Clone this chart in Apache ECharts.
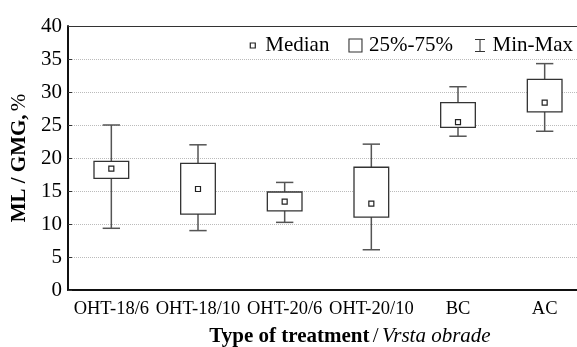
<!DOCTYPE html>
<html>
<head>
<meta charset="utf-8">
<script src="https://cdn.jsdelivr.net/npm/echarts@6/dist/echarts.min.js"></script>
<style>
  html, body { margin: 0; padding: 0; background: #fff; }
  #main { width: 577px; height: 347px; }
</style>
</head>
<body>
<div id="main"></div>
<script>
// values
var categories = ['OHT-18/6', 'OHT-18/10', 'OHT-20/6', 'OHT-20/10', 'BC', 'AC'];
var minVals    = [9.35, 9.0, 10.25, 6.1, 23.3, 24.05];
var q1Vals     = [16.9, 11.5, 12.0, 11.05, 24.65, 27.0];
var medianVals = [18.4, 15.3, 13.4, 13.1, 25.45, 28.4];
var q3Vals     = [19.5, 19.2, 14.85, 18.6, 28.4, 31.9];
var maxVals    = [25.0, 22.0, 16.3, 22.1, 30.8, 34.3];
var yTicks     = [0, 5, 10, 15, 20, 25, 30, 35, 40];

var serif = 'Liberation Serif';

var boxData = categories.map(function (c, i) {
  return [i, minVals[i], q1Vals[i], q3Vals[i], maxVals[i]];
});
var medianData = categories.map(function (c, i) {
  return [i, medianVals[i]];
});

// whiskers: min->q1, q3->max, plus caps
function renderWhisker(params, api) {
  var x = api.value(0);
  var band = api.size([1, 0])[0];
  var cap = band * 0.2 / 2;
  var pMin = api.coord([x, api.value(1)]);
  var pQ1 = api.coord([x, api.value(2)]);
  var pQ3 = api.coord([x, api.value(3)]);
  var pMax = api.coord([x, api.value(4)]);
  var st = { stroke: '#555', lineWidth: 1.5, fill: null };
  return {
    type: 'group',
    children: [
      { type: 'line', shape: { x1: pMin[0], y1: pMin[1], x2: pQ1[0], y2: pQ1[1] }, style: st },
      { type: 'line', shape: { x1: pQ3[0], y1: pQ3[1], x2: pMax[0], y2: pMax[1] }, style: st },
      { type: 'line', shape: { x1: pMin[0] - cap, y1: pMin[1], x2: pMin[0] + cap, y2: pMin[1] }, style: st },
      { type: 'line', shape: { x1: pMax[0] - cap, y1: pMax[1], x2: pMax[0] + cap, y2: pMax[1] }, style: st }
    ]
  };
}

// box between q1 and q3
function renderBox(params, api) {
  var x = api.value(0);
  var band = api.size([1, 0])[0];
  var w = band * 0.4;
  var pQ1 = api.coord([x, api.value(2)]);
  var pQ3 = api.coord([x, api.value(3)]);
  return {
    type: 'rect',
    shape: { x: pQ3[0] - w / 2, y: pQ3[1], width: w, height: pQ1[1] - pQ3[1] },
    style: { fill: '#fff', stroke: '#333', lineWidth: 1.3 }
  };
}

var myChart = echarts.init(document.getElementById('main'));

var option = {
  animation: false,
  backgroundColor: '#fff',
  grid: { left: 68, top: 26, width: 520, bottom: 57, outerBoundsMode: 'none' },
  legend: {
    right: 4,
    top: 35,
    padding: 0,
    itemWidth: 18,
    itemHeight: 14,
    itemGap: 16,
    textStyle: { fontFamily: serif, fontSize: 21, color: '#000' },
    data: [
      {
        name: 'Median',
        icon: 'path://M0,0M18,14M8,4.5h5v5h-5z',
        itemStyle: { color: '#fff', borderColor: '#222', borderWidth: 1.2 }
      },
      {
        name: '25%-75%',
        icon: 'path://M0,0M18,14M3,0.5h13v13h-13z',
        itemStyle: { color: '#fff', borderColor: '#333', borderWidth: 1.1 }
      },
      {
        name: 'Min-Max',
        icon: 'path://M0,0M18,14M5.5,1h10M10.5,1v12M5.5,13h10',
        itemStyle: { color: 'transparent', borderColor: '#333', borderWidth: 1.1 }
      }
    ]
  },
  xAxis: [
    {
      type: 'category',
      data: categories,
      position: 'bottom',
      axisLine: { lineStyle: { color: '#111', width: 2 } },
      axisTick: { inside: true, length: 4, alignWithLabel: true, lineStyle: { color: '#333' } },
      axisLabel: { interval: 0, margin: 10, fontFamily: serif, fontSize: 18.5, color: '#000' },
      name: '{b|Type of treatment} {n|/} {i|Vrsta obrade}',
      nameLocation: 'middle',
      nameGap: 36,
      nameTextStyle: {
        padding: [0, 0, 0, 44],
        rich: {
          b: { fontFamily: serif, fontSize: 21, fontWeight: 'bold', color: '#000' },
          n: { fontFamily: serif, fontSize: 21, color: '#000' },
          i: { fontFamily: serif, fontSize: 21, fontStyle: 'italic', color: '#000' }
        }
      }
    },
    {
      type: 'category',
      data: categories,
      position: 'top',
      axisLine: { lineStyle: { color: '#333', width: 1.2 } },
      axisTick: { inside: true, length: 4, alignWithLabel: true, lineStyle: { color: '#333' } },
      axisLabel: { show: false }
    }
  ],
  yAxis: {
    type: 'value',
    min: yTicks[0],
    max: yTicks[yTicks.length - 1],
    interval: 5,
    axisLine: { show: true, lineStyle: { color: '#111', width: 2 } },
    axisTick: { show: true, inside: true, length: 4, lineStyle: { color: '#333' } },
    axisLabel: { margin: 6, fontFamily: serif, fontSize: 21, color: '#000' },
    splitLine: { lineStyle: { color: '#bbb', type: 'dotted', width: 1 } },
    name: '{b|ML / GMG,} {n|%}',
    nameLocation: 'middle',
    nameGap: 31,
    nameTextStyle: {
      rich: {
        b: { fontFamily: serif, fontSize: 21, fontWeight: 'bold', color: '#000' },
        n: { fontFamily: serif, fontSize: 21, color: '#000' }
      }
    }
  },
  series: [
    {
      name: 'Min-Max',
      type: 'custom',
      renderItem: renderWhisker,
      data: boxData,
      z: 2,
      itemStyle: { color: 'transparent', borderColor: '#333' },
      encode: { x: 0, y: [1, 2, 3, 4] }
    },
    {
      name: '25%-75%',
      type: 'custom',
      renderItem: renderBox,
      data: boxData,
      z: 3,
      itemStyle: { color: '#fff', borderColor: '#333' },
      encode: { x: 0, y: [1, 2, 3, 4] }
    },
    {
      name: 'Median',
      type: 'scatter',
      data: medianData,
      symbol: 'rect',
      symbolSize: 5,
      z: 4,
      itemStyle: { color: '#fff', borderColor: '#222', borderWidth: 1.2, opacity: 1 }
    }
  ]
};
myChart.setOption(option);
</script>
</body>
</html>
